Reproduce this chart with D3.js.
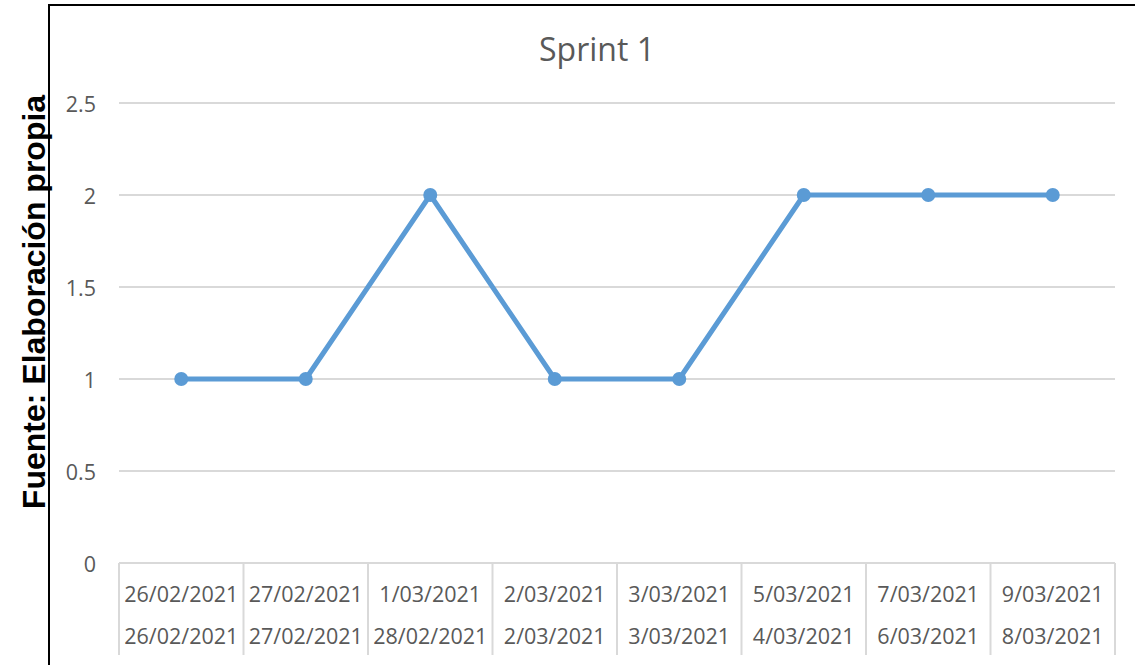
<!DOCTYPE html>
<html>
<head>
<meta charset="utf-8">
<script src="https://cdn.jsdelivr.net/npm/d3@7"></script>
<style>
  body { margin: 0; background: #fff; }
  svg { display: block; }
  .tick text { font-family: "Open Sans", sans-serif; fill: #595959; }
</style>
</head>
<body>
<div id="chart"></div>
<script>
// data
var topLabels = ["26/02/2021", "27/02/2021", "1/03/2021", "2/03/2021", "3/03/2021", "5/03/2021", "7/03/2021", "9/03/2021"];
var bottomLabels = ["26/02/2021", "27/02/2021", "28/02/2021", "2/03/2021", "3/03/2021", "4/03/2021", "6/03/2021", "8/03/2021"];
var values = [1, 1, 2, 1, 1, 2, 2, 2];
var yTicks = [0, 0.5, 1, 1.5, 2, 2.5];

var svgWidth = 1135;
var svgHeight = 665;

var margin = { top: 103, right: 20, bottom: 102, left: 119 };
var width = 1115 - margin.left;
var height = 563 - margin.top;

var svg = d3.select("#chart")
  .append("svg")
  .attr("width", svgWidth)
  .attr("height", svgHeight);

// outer frame (cropped on right and bottom)
svg.append("path")
  .attr("d", "M49,665 V5 H1135")
  .attr("fill", "none")
  .attr("stroke", "#000")
  .attr("stroke-width", 2);

var chartGroup = svg.append("g")
  .attr("transform", `translate(${margin.left}, ${margin.top})`);

var xScale = d3.scaleBand()
  .domain(d3.range(values.length))
  .range([0, width]);

var yScale = d3.scaleLinear()
  .domain([0, 2.5])
  .range([height, 0]);

// gridlines
chartGroup.append("g")
  .selectAll("line")
  .data(yTicks.slice(1))
  .enter()
  .append("line")
  .attr("x1", 0)
  .attr("x2", width)
  .attr("y1", d => yScale(d))
  .attr("y2", d => yScale(d))
  .attr("stroke", "#d9d9d9")
  .attr("stroke-width", 2);

// y axis labels
var yAxis = d3.axisLeft(yScale).tickValues(yTicks).tickFormat(d3.format("")).tickSize(0).tickPadding(23);
var yG = chartGroup.append("g").call(yAxis);
yG.select(".domain").remove();
yG.selectAll("text").attr("font-size", "21.5px").attr("dy", "0.38em");

// category axis: baseline + separators
var sepX = d3.range(values.length + 1).map(i => i * xScale.bandwidth());
chartGroup.append("line")
  .attr("x1", 0).attr("x2", width)
  .attr("y1", height).attr("y2", height)
  .attr("stroke", "#d9d9d9").attr("stroke-width", 2);
chartGroup.append("g")
  .selectAll("line")
  .data(sepX)
  .enter()
  .append("line")
  .attr("x1", d => d).attr("x2", d => d)
  .attr("y1", height).attr("y2", height + 92)
  .attr("stroke", "#d9d9d9").attr("stroke-width", 2);

var xAxisTop = d3.axisBottom(xScale).tickFormat(i => topLabels[i]).tickSize(0).tickPadding(24);
var xAxisBottom = d3.axisBottom(xScale).tickFormat(i => bottomLabels[i]).tickSize(0).tickPadding(66);
[xAxisTop, xAxisBottom].forEach(function(ax) {
  var g = chartGroup.append("g")
    .attr("transform", `translate(0, ${height})`)
    .call(ax);
  g.select(".domain").remove();
  g.selectAll("text").attr("font-size", "21.5px");
});

// line + markers
var line = d3.line()
  .x((d, i) => xScale(i) + xScale.bandwidth() / 2)
  .y(d => yScale(d));

chartGroup.append("path")
  .datum(values)
  .attr("d", line)
  .attr("fill", "none")
  .attr("stroke", "#5b9bd5")
  .attr("stroke-width", 5)
  .attr("stroke-linejoin", "round");

chartGroup.selectAll("circle")
  .data(values)
  .enter()
  .append("circle")
  .attr("cx", (d, i) => xScale(i) + xScale.bandwidth() / 2)
  .attr("cy", d => yScale(d))
  .attr("r", 7)
  .attr("fill", "#5b9bd5");

// title
svg.append("text")
  .attr("x", 597)
  .attr("y", 61)
  .attr("text-anchor", "middle")
  .attr("font-family", "Open Sans, sans-serif")
  .attr("font-size", "32px")
  .attr("fill", "#595959")
  .text("Sprint 1");

// side label
svg.append("text")
  .attr("transform", "translate(45, 302) rotate(-90)")
  .attr("text-anchor", "middle")
  .attr("font-family", "Liberation Sans, Arial, sans-serif")
  .attr("font-weight", "bold")
  .attr("font-size", "32px")
  .attr("fill", "#000")
  .text("Fuente: Elaboración propia");
</script>
</body>
</html>
